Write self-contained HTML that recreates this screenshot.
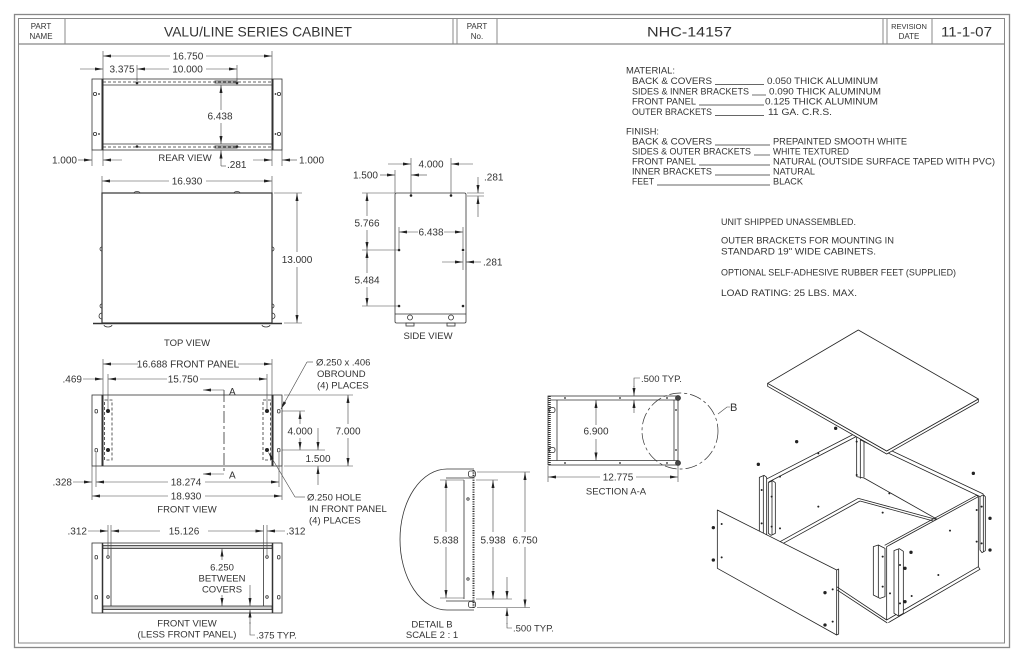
<!DOCTYPE html>
<html><head><meta charset="utf-8"><style>
html,body{margin:0;padding:0;background:#fff;}
svg{display:block}
text{font-family:"Liberation Sans",sans-serif;fill:#333;}
.l{stroke:#333;stroke-width:.8;fill:none}
.t{stroke:#444;stroke-width:.6;fill:none}
.a{marker-end:url(#m)}
.d{font-size:10px}
.s{font-size:9.5px}
.c{text-anchor:middle}
.e{text-anchor:end}
</style></head><body>
<svg width="1024" height="663" viewBox="0 0 1024 663" xmlns="http://www.w3.org/2000/svg">
<defs>
<marker id="m" viewBox="0 0 8 3" refX="8" refY="1.5" markerWidth="8" markerHeight="3" orient="auto" markerUnits="userSpaceOnUse"><path d="M0,0L8,1.5L0,3z" fill="#222"/></marker>
</defs>
<rect width="1024" height="663" fill="#fff"/>

<!-- FRAME -->
<g fill="none" stroke="#888">
<rect x="14.5" y="14.5" width="995" height="633" stroke-width="1.3"/>
<rect x="18.5" y="18.5" width="986" height="624.5" stroke-width="1"/>
<line x1="18" y1="44" x2="1005" y2="44" stroke-width="1.2"/>
<line x1="65" y1="18" x2="65" y2="44"/>
<line x1="453" y1="18" x2="453" y2="44"/>
<line x1="457" y1="18" x2="457" y2="44"/>
<line x1="497" y1="18" x2="497" y2="44"/>
<line x1="883" y1="18" x2="883" y2="44"/>
<line x1="887" y1="18" x2="887" y2="44"/>
<line x1="932" y1="18" x2="932" y2="44"/>
</g>
<text x="41" y="29" class="c" font-size="8">PART</text>
<text x="41" y="39" class="c" font-size="8">NAME</text>
<text x="164" y="36.5" font-size="14" textLength="188" lengthAdjust="spacingAndGlyphs">VALU/LINE SERIES CABINET</text>
<text x="477" y="29" class="c" font-size="8">PART</text>
<text x="477" y="39" class="c" font-size="8">No.</text>
<text x="647" y="36.5" font-size="14" textLength="85" lengthAdjust="spacingAndGlyphs">NHC-14157</text>
<text x="909" y="29" class="c" font-size="7.5">REVISION</text>
<text x="909" y="39" class="c" font-size="8">DATE</text>
<text x="941" y="36.5" font-size="14" textLength="51" lengthAdjust="spacingAndGlyphs">11-1-07</text>

<!-- REAR VIEW -->
<g class="l">
<rect x="92" y="79" width="190" height="71"/>
<line x1="102.5" y1="79" x2="102.5" y2="150" stroke-width="2"/>
<line x1="272.5" y1="79" x2="272.5" y2="150" stroke-width="2"/>
<line x1="103" y1="85" x2="272" y2="85"/>
<line x1="103" y1="144" x2="272" y2="144"/>
<line x1="103" y1="82" x2="272" y2="82" stroke-dasharray="3 2"/>
<line x1="103" y1="147" x2="272" y2="147" stroke-dasharray="3 2"/>
<rect x="215" y="81" width="22" height="2"/>
<rect x="215" y="146" width="22" height="2"/>
<circle cx="95" cy="94" r="1.6"/><circle cx="95" cy="134" r="1.6"/>
<circle cx="279" cy="94" r="1.6"/><circle cx="279" cy="134" r="1.6"/>
</g>
<g fill="#222">
<circle cx="137" cy="83" r="1.3"/><circle cx="237" cy="83" r="1.3"/>
<circle cx="137" cy="146.5" r="1.3"/><circle cx="237" cy="146.5" r="1.3"/>
<circle cx="99" cy="94" r="0.9"/><circle cx="99" cy="134" r="0.9"/>
<circle cx="275.5" cy="94" r="0.9"/><circle cx="275.5" cy="134" r="0.9"/>
</g>
<g class="t">
<line x1="103" y1="51" x2="103" y2="79"/><line x1="272" y1="51" x2="272" y2="79"/>
<line x1="137" y1="65" x2="137" y2="83"/><line x1="237" y1="65" x2="237" y2="83"/>
<line x1="92" y1="150" x2="92" y2="166"/><line x1="103" y1="150" x2="103" y2="166"/>
<line x1="272" y1="150" x2="272" y2="166"/><line x1="282" y1="150" x2="282" y2="166"/>
<line x1="221" y1="166" x2="226" y2="166"/>
</g>
<g class="t a">
<line x1="170" y1="56" x2="103" y2="56"/><line x1="206" y1="56" x2="272" y2="56"/>
<line x1="80" y1="69" x2="103" y2="69"/>
<line x1="169" y1="69" x2="137" y2="69"/><line x1="206" y1="69" x2="237" y2="69"/>
<line x1="221" y1="110" x2="221" y2="85"/><line x1="221" y1="123" x2="221" y2="144"/>
<line x1="78" y1="160" x2="92" y2="160"/><line x1="122" y1="160" x2="103" y2="160"/>
<line x1="221" y1="166" x2="221" y2="150.5"/>
<line x1="253" y1="160" x2="272" y2="160"/><line x1="297" y1="160" x2="282" y2="160"/>
</g>
<text x="188" y="59.5" class="d c">16.750</text>
<text x="122" y="72.5" class="d c">3.375</text>
<text x="187.5" y="72.5" class="d c">10.000</text>
<text x="220" y="119.5" class="d c">6.438</text>
<text x="77" y="163.5" class="d e">1.000</text>
<text x="185" y="161" class="s c">REAR VIEW</text>
<text x="227" y="168" class="d">.281</text>
<text x="299" y="163.5" class="d">1.000</text>

<!-- TOP VIEW -->
<g class="l">
<rect x="102" y="193" width="170" height="130" stroke-width="1.2"/>
<line x1="93" y1="323.5" x2="282" y2="323.5" stroke-width="1.5"/>
<path d="M104,325 a4,2 0 0 0 8,0 M262,325 a4,2 0 0 0 8,0"/>
<path d="M102,313 a2,2 0 0 0 0,6 M272,313 a2,2 0 0 1 0,6"/>
<path d="M102,247 a1.5,1.5 0 0 0 0,4 M272,247 a1.5,1.5 0 0 1 0,4"/>
<path d="M102,304 a1.5,1.5 0 0 0 0,4 M272,304 a1.5,1.5 0 0 1 0,4"/>
<path d="M134,193 a3,1.5 0 0 1 6,0 M234,193 a3,1.5 0 0 1 6,0"/>
</g>
<g class="t">
<line x1="102" y1="176" x2="102" y2="193"/><line x1="272" y1="176" x2="272" y2="193"/>
<line x1="274" y1="193" x2="302" y2="193"/><line x1="284" y1="323" x2="302" y2="323"/>
</g>
<g class="t a">
<line x1="169" y1="181" x2="102" y2="181"/><line x1="206" y1="181" x2="272" y2="181"/>
<line x1="297" y1="252" x2="297" y2="193"/><line x1="297" y1="267" x2="297" y2="323"/>
</g>
<text x="187" y="184.5" class="d c">16.930</text>
<text x="297" y="263" class="d c">13.000</text>
<text x="187" y="346" class="s c">TOP VIEW</text>

<!-- SIDE VIEW -->
<g class="l">
<rect x="395" y="193" width="71" height="130" rx="1.5"/>
<line x1="395" y1="314" x2="466" y2="314"/>
<circle cx="410" cy="317.5" r="2.5"/><circle cx="451" cy="317.5" r="2.5"/>
<rect x="406" y="323" width="8" height="3"/><rect x="447" y="323" width="8" height="3"/>
</g>
<g fill="#222">
<circle cx="411" cy="195.5" r="1.3"/><circle cx="451" cy="195.5" r="1.3"/>
<circle cx="399" cy="250" r="1.3"/><circle cx="463" cy="250" r="1.3"/>
<circle cx="399" cy="306" r="1.3"/><circle cx="463" cy="306" r="1.3"/>
</g>
<g class="t">
<line x1="411" y1="158" x2="411" y2="195"/><line x1="451" y1="158" x2="451" y2="195"/>
<line x1="395" y1="170" x2="395" y2="193"/>
<line x1="467" y1="193" x2="484" y2="193"/><line x1="467" y1="196" x2="484" y2="196"/>
<line x1="362" y1="193" x2="395" y2="193"/><line x1="362" y1="250" x2="399" y2="250"/><line x1="362" y1="306" x2="399" y2="306"/>
<line x1="399" y1="227" x2="399" y2="250"/><line x1="463" y1="227" x2="463" y2="250"/>
<line x1="463" y1="252" x2="463" y2="270"/><line x1="466" y1="252" x2="466" y2="270"/>
</g>
<g class="t a">
<line x1="388" y1="164" x2="411" y2="164"/><line x1="473" y1="164" x2="451" y2="164"/>
<line x1="380" y1="175" x2="395" y2="175"/><line x1="427" y1="175" x2="411" y2="175"/>
<line x1="478" y1="177" x2="478" y2="193"/><line x1="478" y1="217" x2="478" y2="196"/>
<line x1="367" y1="216" x2="367" y2="193"/><line x1="367" y1="230" x2="367" y2="250"/>
<line x1="367" y1="273" x2="367" y2="250"/><line x1="367" y1="287" x2="367" y2="306"/>
<line x1="418" y1="232" x2="399" y2="232"/><line x1="444" y1="232" x2="463" y2="232"/>
<line x1="442" y1="262" x2="463" y2="262"/><line x1="481" y1="262" x2="466" y2="262"/>
</g>
<text x="431" y="167.5" class="d c">4.000</text>
<text x="378" y="178.5" class="d e">1.500</text>
<text x="484" y="180.5" class="d">.281</text>
<text x="367" y="226.5" class="d c">5.766</text>
<text x="367" y="283.5" class="d c">5.484</text>
<text x="431" y="235.5" class="d c">6.438</text>
<text x="483" y="265.5" class="d">.281</text>
<text x="428" y="339" class="s c">SIDE VIEW</text>

<!-- NOTES -->
<g font-size="9.5">
<text x="626" y="73.5" textLength="49" lengthAdjust="spacingAndGlyphs">MATERIAL:</text>
<text x="632" y="84" textLength="80" lengthAdjust="spacingAndGlyphs">BACK &amp; COVERS</text>
<text x="767" y="84" textLength="111" lengthAdjust="spacingAndGlyphs">0.050 THICK ALUMINUM</text>
<text x="632" y="94.5" textLength="117" lengthAdjust="spacingAndGlyphs">SIDES &amp; INNER BRACKETS</text>
<text x="769" y="94.5" textLength="112" lengthAdjust="spacingAndGlyphs">0.090 THICK ALUMINUM</text>
<text x="632" y="104.5" textLength="64" lengthAdjust="spacingAndGlyphs">FRONT PANEL</text>
<text x="765" y="104.5" textLength="113" lengthAdjust="spacingAndGlyphs">0.125 THICK ALUMINUM</text>
<text x="632" y="115" textLength="80" lengthAdjust="spacingAndGlyphs">OUTER BRACKETS</text>
<text x="768" y="115" textLength="64" lengthAdjust="spacingAndGlyphs">11 GA. C.R.S.</text>
<text x="626" y="134.5" textLength="33" lengthAdjust="spacingAndGlyphs">FINISH:</text>
<text x="632" y="144.5" textLength="80" lengthAdjust="spacingAndGlyphs">BACK &amp; COVERS</text>
<text x="773" y="144.5" textLength="134" lengthAdjust="spacingAndGlyphs">PREPAINTED SMOOTH WHITE</text>
<text x="632" y="154.5" textLength="119" lengthAdjust="spacingAndGlyphs">SIDES &amp; OUTER BRACKETS</text>
<text x="773" y="154.5" textLength="76" lengthAdjust="spacingAndGlyphs">WHITE TEXTURED</text>
<text x="632" y="164.5" textLength="64" lengthAdjust="spacingAndGlyphs">FRONT PANEL</text>
<text x="773" y="164.5" textLength="222" lengthAdjust="spacingAndGlyphs">NATURAL (OUTSIDE SURFACE TAPED WITH PVC)</text>
<text x="632" y="174.5" textLength="80" lengthAdjust="spacingAndGlyphs">INNER BRACKETS</text>
<text x="773" y="174.5" textLength="42" lengthAdjust="spacingAndGlyphs">NATURAL</text>
<text x="632" y="184.5" textLength="22" lengthAdjust="spacingAndGlyphs">FEET</text>
<text x="773" y="184.5" textLength="30" lengthAdjust="spacingAndGlyphs">BLACK</text>
<text x="721" y="225" textLength="135" lengthAdjust="spacingAndGlyphs">UNIT SHIPPED UNASSEMBLED.</text>
<text x="721" y="243.5" textLength="173" lengthAdjust="spacingAndGlyphs">OUTER BRACKETS FOR MOUNTING IN</text>
<text x="721" y="254.5" textLength="155" lengthAdjust="spacingAndGlyphs">STANDARD 19&quot; WIDE CABINETS.</text>
<text x="721" y="275.5" textLength="235" lengthAdjust="spacingAndGlyphs">OPTIONAL SELF-ADHESIVE RUBBER FEET (SUPPLIED)</text>
<text x="721" y="296" textLength="136" lengthAdjust="spacingAndGlyphs">LOAD RATING:  25 LBS. MAX.</text>
</g>
<g stroke="#333" stroke-width=".7">
<line x1="715" y1="84.5" x2="764" y2="84.5"/>
<line x1="752" y1="95" x2="766" y2="95"/>
<line x1="699" y1="105" x2="764" y2="105"/>
<line x1="715" y1="115.5" x2="764" y2="115.5"/>
<line x1="715" y1="145" x2="770" y2="145"/>
<line x1="754" y1="155" x2="770" y2="155"/>
<line x1="699" y1="165" x2="770" y2="165"/>
<line x1="715" y1="175" x2="770" y2="175"/>
<line x1="657" y1="185" x2="770" y2="185"/>
</g>

<!-- FRONT VIEW -->
<g class="l">
<rect x="92" y="395" width="190" height="71"/>
<line x1="102.5" y1="395" x2="102.5" y2="466" stroke-width="2"/>
<line x1="272.5" y1="395" x2="272.5" y2="466" stroke-width="2"/>
<rect x="104.5" y="400" width="7.5" height="60" stroke-dasharray="3 2"/>
<rect x="263" y="400" width="7.5" height="60" stroke-dasharray="3 2"/>
<rect x="95" y="409.5" width="2.5" height="3.5" rx="1"/><rect x="95" y="448.5" width="2.5" height="3.5" rx="1"/>
<rect x="277.5" y="409.5" width="2.5" height="3.5" rx="1"/><rect x="277.5" y="448.5" width="2.5" height="3.5" rx="1"/>
<line x1="224" y1="390" x2="224" y2="474" stroke-dasharray="12 3 3 3"/>
</g>
<g fill="#222">
<circle cx="108" cy="411" r="2"/><circle cx="108" cy="450" r="2"/>
<circle cx="267" cy="411" r="2"/><circle cx="267" cy="450" r="2"/>
</g>
<g class="t">
<line x1="103" y1="359" x2="103" y2="395"/><line x1="272" y1="359" x2="272" y2="395"/>
<line x1="108" y1="374" x2="108" y2="409"/><line x1="267" y1="374" x2="267" y2="409"/>
<line x1="284" y1="395" x2="353" y2="395"/><line x1="284" y1="466" x2="353" y2="466"/>
<line x1="282" y1="411" x2="305" y2="411"/><line x1="282" y1="450" x2="325" y2="450"/>
<line x1="92" y1="466" x2="92" y2="500"/><line x1="282" y1="466" x2="282" y2="500"/>
<line x1="96" y1="453" x2="96" y2="487"/><line x1="279" y1="453" x2="279" y2="487"/>
<path d="M313,362 L307,362"/>
<path d="M305,497 L295,497"/>
</g>
<g class="t a">
<line x1="138" y1="364" x2="103" y2="364"/><line x1="238" y1="364" x2="272" y2="364"/>
<line x1="83" y1="379" x2="103" y2="379"/>
<line x1="167" y1="379" x2="108" y2="379"/><line x1="200" y1="379" x2="267" y2="379"/>
<line x1="348" y1="424" x2="348" y2="395"/><line x1="348" y1="438" x2="348" y2="466"/>
<line x1="300" y1="424" x2="300" y2="411"/><line x1="300" y1="438" x2="300" y2="450"/>
<line x1="318" y1="428" x2="318" y2="450"/><line x1="318" y1="485" x2="318" y2="466"/>
<line x1="73" y1="482" x2="92" y2="482"/>
<line x1="168" y1="482" x2="96" y2="482"/><line x1="205" y1="482" x2="279" y2="482"/>
<line x1="168" y1="496" x2="92" y2="496"/><line x1="205" y1="496" x2="282" y2="496"/>
<path d="M307,362 L281,409"/>
<path d="M295,497 L268.5,452.5"/>
<line x1="224" y1="390" x2="203" y2="390"/>
<line x1="224" y1="474" x2="203" y2="474"/>
</g>
<text x="188" y="367.5" class="d c">16.688 FRONT PANEL</text>
<text x="82" y="382.5" class="d e">.469</text>
<text x="183" y="382.5" class="d c">15.750</text>
<text x="229" y="395" class="d">A</text>
<text x="229" y="478.5" class="d">A</text>
<text x="348" y="434.5" class="d c">7.000</text>
<text x="300" y="434.5" class="d c">4.000</text>
<text x="318" y="462" class="d c">1.500</text>
<text x="72" y="485.5" class="d e">.328</text>
<text x="186" y="485.5" class="d c">18.274</text>
<text x="186" y="499.5" class="d c">18.930</text>
<text x="187" y="512.5" class="s c">FRONT VIEW</text>
<text x="316" y="365.5" class="s">Ø.250 x .406</text>
<text x="317" y="377" class="s">OBROUND</text>
<text x="317" y="388.5" class="s">(4) PLACES</text>
<text x="307" y="500.5" class="s">Ø.250 HOLE</text>
<text x="309" y="512" class="s">IN FRONT PANEL</text>
<text x="309" y="523.5" class="s">(4) PLACES</text>

<!-- FRONT VIEW LESS PANEL -->
<g class="l">
<rect x="92" y="543" width="190" height="70"/>
<line x1="102.5" y1="543" x2="102.5" y2="613" stroke-width="1.5"/>
<line x1="272.5" y1="543" x2="272.5" y2="613" stroke-width="1.5"/>
<rect x="103" y="545.5" width="169" height="3" fill="#ccc"/>
<rect x="103" y="606" width="169" height="3.5" fill="#ccc"/>
<line x1="111" y1="548.5" x2="111" y2="606"/>
<line x1="263.5" y1="548.5" x2="263.5" y2="606"/>
<rect x="95" y="555.5" width="2.5" height="3.5" rx="1"/><rect x="95" y="595.5" width="2.5" height="3.5" rx="1"/>
<rect x="277.5" y="555.5" width="2.5" height="3.5" rx="1"/><rect x="277.5" y="595.5" width="2.5" height="3.5" rx="1"/>
<circle cx="108" cy="557" r="1.3"/><circle cx="108" cy="597" r="1.3"/>
<circle cx="267" cy="557" r="1.3"/><circle cx="267" cy="597" r="1.3"/>
</g>
<g class="t">
<line x1="108" y1="525" x2="108" y2="555"/><line x1="111" y1="525" x2="111" y2="548"/>
<line x1="263.5" y1="525" x2="263.5" y2="548"/><line x1="267" y1="525" x2="267" y2="555"/>
<path d="M250,622 L250,635 L255,635"/>
</g>
<g class="t a">
<line x1="88" y1="531" x2="108" y2="531"/>
<line x1="160" y1="531" x2="111" y2="531"/><line x1="208" y1="531" x2="263.5" y2="531"/>
<line x1="285" y1="531" x2="267" y2="531"/>
<line x1="222" y1="560" x2="222" y2="548.5"/><line x1="222" y1="595" x2="222" y2="606"/>
<line x1="250" y1="585" x2="250" y2="606"/><line x1="250" y1="624" x2="250" y2="609.5"/>
</g>
<text x="87" y="534.5" class="d e">.312</text>
<text x="184" y="534.5" class="d c">15.126</text>
<text x="286" y="534.5" class="d">.312</text>
<text x="222" y="570.5" class="s c">6.250</text>
<text x="222" y="581.5" class="s c">BETWEEN</text>
<text x="222" y="592.5" class="s c">COVERS</text>
<text x="256" y="638.5" class="s">.375 TYP.</text>
<text x="187" y="626.5" class="s c">FRONT VIEW</text>
<text x="187" y="637.5" class="s c">(LESS FRONT PANEL)</text>

<!-- DETAIL B -->
<g class="l">
<path d="M447,469 L474,469 M447,469 A47,70.5 0 0 0 447,610 L474,610"/>
<line x1="473.5" y1="470" x2="473.5" y2="609" stroke-width="2" stroke-dasharray="1.2 1.2"/>
<line x1="464" y1="480" x2="464" y2="599"/>
<line x1="446" y1="478" x2="473" y2="478"/>
<line x1="446" y1="601" x2="473" y2="601"/>
<rect x="468.5" y="471" width="7" height="6" rx="2"/>
<rect x="468.5" y="601.5" width="7" height="6" rx="2"/>
<circle cx="468" cy="499" r="1.2"/><circle cx="468" cy="579" r="1.2"/>
</g>
<g class="t">
<line x1="440" y1="480" x2="464" y2="480"/><line x1="440" y1="598" x2="464" y2="598"/>
<line x1="476" y1="480" x2="498" y2="480"/><line x1="476" y1="599" x2="512" y2="599"/>
<line x1="477" y1="472" x2="530" y2="472"/><line x1="477" y1="607.5" x2="530" y2="607.5"/>
<path d="M507,623 L507,628 L512,628"/>
</g>
<g class="t a">
<line x1="446" y1="532" x2="446" y2="480"/><line x1="446" y1="547" x2="446" y2="598"/>
<line x1="493" y1="532" x2="493" y2="480"/><line x1="493" y1="547" x2="493" y2="599"/>
<line x1="525" y1="532" x2="525" y2="472"/><line x1="525" y1="547" x2="525" y2="607.5"/>
<line x1="507" y1="577" x2="507" y2="599"/><line x1="507" y1="624" x2="507" y2="608"/>
</g>
<text x="446" y="543.5" class="d c">5.838</text>
<text x="493" y="543.5" class="d c">5.938</text>
<text x="525" y="543.5" class="d c">6.750</text>
<text x="513" y="631.5" class="s">.500 TYP.</text>
<text x="432" y="627.5" class="s c">DETAIL B</text>
<text x="432" y="638" class="s c">SCALE 2 : 1</text>

<!-- SECTION A-A -->
<g class="l">
<rect x="548" y="396" width="130" height="69"/>
<line x1="550" y1="400" x2="678" y2="400"/>
<line x1="550" y1="460.5" x2="678" y2="460.5"/>
<line x1="557" y1="400" x2="557" y2="460.5"/>
<line x1="674" y1="400" x2="674" y2="460.5"/>
<line x1="549.5" y1="396" x2="549.5" y2="465" stroke-width="2.5" stroke-dasharray="1 1"/>
<rect x="549" y="407.5" width="6" height="5" rx="2"/>
<rect x="549" y="447.5" width="6" height="5" rx="2"/>
<circle cx="678" cy="398" r="2.5" fill="#444"/>
<circle cx="678" cy="463" r="2.5" fill="#444"/>
<circle cx="680" cy="431" r="38" stroke-dasharray="12 3 3 3" stroke-width=".7"/>
</g>
<g fill="#222">
<circle cx="565" cy="398" r=".9"/><circle cx="620" cy="398" r=".9"/><circle cx="667" cy="398" r=".9"/>
<circle cx="565" cy="463" r=".9"/><circle cx="620" cy="463" r=".9"/><circle cx="667" cy="463" r=".9"/>
<circle cx="676" cy="410" r=".9"/><circle cx="676" cy="450" r=".9"/>
</g>
<g class="t">
<path d="M634,387 L634,378 L640,378"/>
<line x1="548" y1="466" x2="548" y2="482"/><line x1="678" y1="466" x2="678" y2="482"/>
<path d="M718,414 L727,407 L730,407"/>
</g>
<g class="t a">
<line x1="596" y1="425" x2="596" y2="400"/><line x1="596" y1="439" x2="596" y2="460.5"/>
<line x1="634" y1="386" x2="634" y2="396"/><line x1="634" y1="413" x2="634" y2="400"/>
<line x1="600" y1="477" x2="548" y2="477"/><line x1="636" y1="477" x2="678" y2="477"/>
</g>
<text x="596" y="434.5" class="d c">6.900</text>
<text x="641" y="382" class="s">.500 TYP.</text>
<text x="618" y="480.5" class="d c">12.775</text>
<text x="616" y="494.5" class="s c">SECTION A-A</text>
<text x="730" y="411" font-size="11">B</text>

<!-- ISOMETRIC -->
<g transform="translate(690,320) scale(0.33333)" stroke="#222" stroke-width="2.4" fill="none" stroke-linejoin="round">
<path d="M515,350 L880,522 M512,360 L875,532"/>
<path d="M228,478 L500,338 M236,486 L504,347"/>
<path d="M500,338 V470 M511,344 V476 M522,352 V472 M500,470 L522,474"/>
<path d="M270,665 L505,535 M278,671 L510,543"/>
<path d="M522,474 L745,600"/>
<path d="M505,535 L745,600 M510,543 L745,607"/>
<g fill="#222" stroke="none">
<circle cx="385" cy="400" r="3"/><circle cx="500" cy="365" r="3"/><circle cx="500" cy="465" r="3"/>
<circle cx="385" cy="560" r="3"/><circle cx="270" cy="470" r="3"/><circle cx="270" cy="625" r="3"/>
<circle cx="578" cy="578" r="3"/><circle cx="598" cy="520" r="3"/>
</g>
<path d="M590,680 L865,530 L865,740 L590,900 Z" fill="#fff"/>
<path d="M584,676 L860,526 L865,530"/>
<path d="M595,908 L870,748 L865,740"/>
<path d="M870,530 L880,524 L886,530 L886,692 L876,698 L870,690 Z" fill="#fff"/>
<path d="M880,524 V696"/>
<path d="M440,800 L590,900 M440,809 L592,909"/>
<path d="M550,680 L565,675 L585,685 L585,830 L570,835 L550,825 Z" fill="#fff"/>
<path d="M565,675 V832"/>
<path d="M612,692 L628,686 L640,694 L640,880 L626,888 L612,880 Z" fill="#fff"/>
<path d="M626,688 V886"/>
<path d="M208,472 L222,466 L230,472 L230,650 L216,656 L208,648 Z" fill="#fff"/>
<path d="M220,467 V653"/>
<path d="M235,488 L248,482 L256,488 L256,640 L243,646 L235,640 Z" fill="#fff"/>
<path d="M246,483 V643"/>
<g fill="#222" stroke="none">
<circle cx="780" cy="632" r="3"/><circle cx="860" cy="570" r="3"/><circle cx="860" cy="665" r="3"/>
<circle cx="745" cy="765" r="3"/><circle cx="665" cy="828" r="3"/><circle cx="600" cy="820" r="3"/>
<circle cx="215" cy="510" r="3"/><circle cx="215" cy="610" r="3"/><circle cx="245" cy="530" r="3"/><circle cx="245" cy="620" r="3"/>
<circle cx="578" cy="710" r="3"/><circle cx="578" cy="800" r="3"/><circle cx="630" cy="735" r="3"/><circle cx="630" cy="850" r="3"/>
<circle cx="875" cy="560" r="3"/><circle cx="875" cy="670" r="3"/>
<circle cx="205" cy="433" r="5"/><circle cx="320" cy="365" r="5"/><circle cx="437" cy="325" r="5"/>
<circle cx="850" cy="460" r="5"/><circle cx="900" cy="595" r="5"/><circle cx="900" cy="690" r="5"/>
<circle cx="663" cy="697" r="5"/><circle cx="645" cy="745" r="5"/><circle cx="645" cy="845" r="5"/>
</g>
<path d="M82,570 L440,750 L440,945 L82,745 Z" fill="#fff"/>
<path d="M440,750 L446,747 L446,942 L440,945"/>
<g fill="#222" stroke="none">
<circle cx="70" cy="623" r="5"/><circle cx="70" cy="720" r="5"/>
<circle cx="405" cy="818" r="5"/><circle cx="405" cy="915" r="5"/>
<circle cx="95" cy="612" r="3"/><circle cx="95" cy="712" r="3"/>
<circle cx="428" cy="808" r="3"/><circle cx="428" cy="905" r="3"/>
</g>
<path d="M233,190 L590,393 L865,237 L865,246 L590,402 L233,199 Z" fill="#fff"/>
<path d="M233,190 L505,30 L865,237 L590,393 Z" fill="#fff"/>
</g>
</svg>
</body></html>
